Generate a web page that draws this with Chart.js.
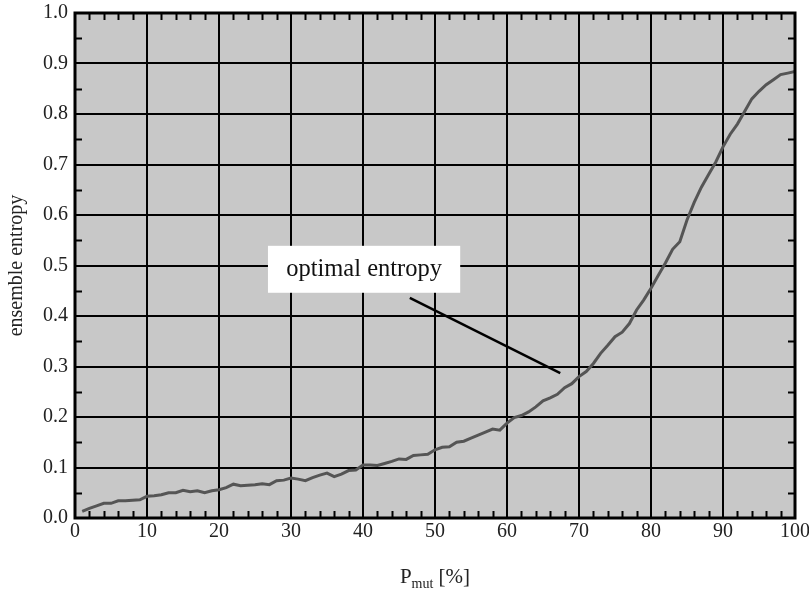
<!DOCTYPE html>
<html>
<head>
<meta charset="utf-8">
<script src="https://cdn.jsdelivr.net/npm/chart.js@4/dist/chart.umd.min.js"></script>
<style>
html,body{margin:0;padding:0;background:#fff;}
#wrap{width:809px;height:591px;position:relative;}
</style>
</head>
<body>
<div id="wrap"><canvas id="c"></canvas></div>
<script>
// ---- data ----
const pMut = [1,2,3,4,5,6,7,8,9,10,11,12,13,14,15,16,17,18,19,20,
  21,22,23,24,25,26,27,28,29,30,31,32,33,34,35,36,37,38,39,40,
  41,42,43,44,45,46,47,48,49,50,51,52,53,54,55,56,57,58,59,60,
  61,62,63,64,65,66,67,68,69,70,71,72,73,74,75,76,77,78,79,80,
  81,82,83,84,85,86,87,88,89,90,91,92,93,94,95,96,97,98,99,100];
const entropy = [0.013,0.019,0.024,0.029,0.029,0.034,0.034,0.035,0.036,0.043,
  0.044,0.046,0.050,0.050,0.055,0.052,0.054,0.050,0.054,0.056,
  0.060,0.067,0.064,0.065,0.066,0.068,0.066,0.074,0.075,0.079,
  0.077,0.074,0.080,0.085,0.089,0.082,0.087,0.094,0.095,0.105,
  0.105,0.104,0.108,0.112,0.117,0.116,0.124,0.125,0.126,0.135,
  0.140,0.141,0.150,0.152,0.158,0.164,0.170,0.176,0.174,0.188,
  0.199,0.203,0.210,0.220,0.232,0.238,0.245,0.258,0.266,0.280,
  0.290,0.306,0.326,0.342,0.359,0.368,0.385,0.412,0.432,0.455,
  0.480,0.505,0.532,0.547,0.590,0.625,0.655,0.680,0.705,0.735,
  0.760,0.780,0.805,0.830,0.845,0.858,0.868,0.878,0.881,0.884];
const xTickLabels = ['0','10','20','30','40','50','60','70','80','90','100'];
const yTickLabels = ['0.0','0.1','0.2','0.3','0.4','0.5','0.6','0.7','0.8','0.9','1.0'];
const yTitle = 'ensemble entropy';
const xTitleMain = 'P';
const xTitleSub = 'mut';
const xTitleTail = ' [%]';
const annotText = 'optimal entropy';
const annotBox = {x0: 26.8, x1: 53.5, y0: 0.446, y1: 0.539};
const annotLine = {x0: 46.5, y0: 0.436, x1: 67.4, y1: 0.287};

const SERIF = '"Liberation Serif", "Times New Roman", serif';

const decor = {
  id: 'decor',
  beforeDraw(chart) {
    const {ctx, chartArea: a} = chart;
    ctx.save();
    ctx.fillStyle = '#c8c8c8';
    ctx.fillRect(a.left, a.top, a.right - a.left, a.bottom - a.top);
    ctx.restore();
  },
  afterDatasetsDraw(chart) {
    const {ctx, chartArea: a, scales: {x, y}} = chart;
    ctx.save();
    // annotation box
    const bx0 = x.getPixelForValue(annotBox.x0), bx1 = x.getPixelForValue(annotBox.x1);
    const by0 = y.getPixelForValue(annotBox.y1), by1 = y.getPixelForValue(annotBox.y0);
    ctx.fillStyle = '#ffffff';
    ctx.fillRect(bx0, by0, bx1 - bx0, by1 - by0);
    ctx.fillStyle = '#111';
    ctx.font = '24.5px ' + SERIF;
    ctx.textAlign = 'center';
    ctx.textBaseline = 'middle';
    ctx.fillText(annotText, (bx0 + bx1) / 2, (by0 + by1) / 2);
    // annotation line
    ctx.strokeStyle = '#000';
    ctx.lineWidth = 2.5;
    ctx.beginPath();
    ctx.moveTo(x.getPixelForValue(annotLine.x0), y.getPixelForValue(annotLine.y0));
    ctx.lineTo(x.getPixelForValue(annotLine.x1), y.getPixelForValue(annotLine.y1));
    ctx.stroke();
    // minor ticks
    ctx.lineWidth = 2;
    ctx.strokeStyle = '#000';
    const tl = 7;
    ctx.beginPath();
    for (let v = 2; v < 100; v += 2) {
      if (v % 10 === 0) continue;
      const px = Math.round(x.getPixelForValue(v)) + 0.5;
      ctx.moveTo(px, a.bottom); ctx.lineTo(px, a.bottom - tl);
      ctx.moveTo(px, a.top); ctx.lineTo(px, a.top + tl);
    }
    for (let k = 1; k < 20; k += 2) {
      const py = Math.round(y.getPixelForValue(k * 0.05)) + 0.5;
      ctx.moveTo(a.left, py); ctx.lineTo(a.left + tl, py);
      ctx.moveTo(a.right, py); ctx.lineTo(a.right - tl, py);
    }
    ctx.stroke();
    // frame
    ctx.lineWidth = 3;
    ctx.strokeRect(a.left, a.top, a.right - a.left, a.bottom - a.top);
    ctx.restore();
  },
  afterDraw(chart) {
    const {ctx, chartArea: a} = chart;
    ctx.save();
    ctx.fillStyle = '#222';
    ctx.textBaseline = 'alphabetic';
    ctx.textAlign = 'left';
    const big = '21px ' + SERIF, small = '14px ' + SERIF;
    ctx.font = big; const w1 = ctx.measureText(xTitleMain).width;
    const w3 = ctx.measureText(xTitleTail).width;
    ctx.font = small; const w2 = ctx.measureText(xTitleSub).width;
    const total = w1 + w2 + w3;
    const cx = (a.left + a.right) / 2;
    let sx = cx - total / 2;
    const base = 583;
    ctx.font = big; ctx.fillText(xTitleMain, sx, base);
    ctx.font = small; ctx.fillText(xTitleSub, sx + w1, base + 5);
    ctx.font = big; ctx.fillText(xTitleTail, sx + w1 + w2, base);
    ctx.restore();
  }
};

new Chart(document.getElementById('c'), {
  type: 'line',
  data: {
    datasets: [{
      data: pMut.map((v, i) => ({x: v, y: entropy[i]})),
      borderColor: '#555555',
      borderWidth: 3,
      pointRadius: 0,
      tension: 0,
      fill: false
    }]
  },
  options: {
    responsive: true,
    maintainAspectRatio: false,
    animation: false,
    layout: {padding: {top: 13, right: 14, left: 0, bottom: 0}},
    plugins: {legend: {display: false}, tooltip: {enabled: false}},
    scales: {
      x: {
        type: 'linear', min: 0, max: 100,
        afterFit(s) { s.height = 73; s.paddingLeft = 0; s.paddingRight = 0; },
        grid: {color: '#000', lineWidth: 2, drawTicks: false},
        border: {display: false},
        ticks: {
          stepSize: 10, padding: 2, color: '#222', maxRotation: 0,
          font: {family: SERIF, size: 20},
          callback: (v, i) => xTickLabels[Math.round(v / 10)]
        }
      },
      y: {
        type: 'linear', min: 0, max: 1,
        afterFit(s) { s.width = 75; s.paddingTop = 0; s.paddingBottom = 0; },
        grid: {color: '#000', lineWidth: 2, drawTicks: false},
        border: {display: false},
        ticks: {
          stepSize: 0.1, padding: 7, color: '#222',
          font: {family: SERIF, size: 20},
          callback: (v) => yTickLabels[Math.round(v * 10)]
        },
        title: {
          display: true, text: yTitle, color: '#222',
          font: {family: SERIF, size: 20},
          padding: {top: 5, bottom: 0}
        }
      }
    }
  },
  plugins: [decor]
});
</script>
</body>
</html>
